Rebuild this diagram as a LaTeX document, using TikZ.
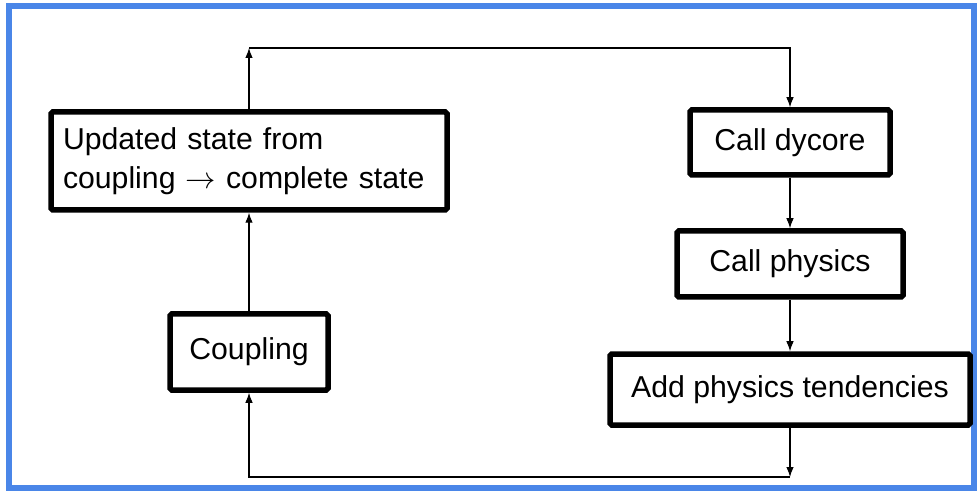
\documentclass[tikz,border=0pt]{standalone}
\usepackage{fontspec}
\setmainfont{Liberation Sans}
\usepackage{tikz}
\usetikzlibrary{arrows.meta}
\definecolor{frameblue}{HTML}{4A86E8}
\tikzset{
    block/.style = {
        draw,
        shape=rectangle,
        line width=0.11cm,
        rounded corners=1pt,
        font=\fontsize{17.2}{22}\selectfont
    },
    link/.style = {
        draw,
        line width=0.6pt
    },
    >={Latex[length=2mm,width=1.5mm]},
}

\begin{document}
\begin{tikzpicture}
                \useasboundingbox (0,0) rectangle (19.6,9.84);
                \draw[frameblue, line width=0.11cm] (0.18,0.08) rectangle (19.48,9.72);

                \node[block, minimum width=7.92cm, minimum height=1.96cm, text width=7.44cm, inner xsep=0.24cm, align=left] (update) at (4.98,6.62) {Updated state from\\coupling $\rightarrow$ complete state};
                \node[block, minimum width=3.16cm, minimum height=1.52cm] (coupling) at (4.98,2.8) {Coupling};
                \node[block, minimum width=4.0cm, minimum height=1.3cm] (dycore) at (15.8,6.99) {Call dycore};
                \node[block, minimum width=4.52cm, minimum height=1.32cm] (physics) at (15.8,4.56) {Call physics};
                \node[block, minimum width=7.2cm, minimum height=1.42cm] (tend) at (15.8,2.05) {Add physics tendencies};

                \coordinate (topturn) at (4.98,8.88);
                \coordinate (botturn) at (15.8,0.3);

                \path[link, ->] (update) -- (topturn);
                \path[link, ->] (topturn) -| (dycore);
                \path[link, ->] (dycore) -- (physics);
                \path[link, ->] (physics) -- (tend);
                \path[link, ->] (tend) -- (botturn);
                \path[link, ->] (botturn) -| (coupling);
                \path[link, ->] (coupling) -- (update);
\end{tikzpicture}
\end{document}
